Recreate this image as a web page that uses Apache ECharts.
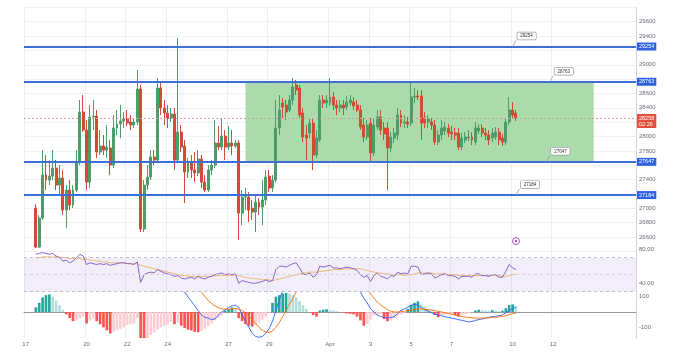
<!DOCTYPE html>
<html>
<head>
<meta charset="utf-8">
<script src="https://cdn.jsdelivr.net/npm/echarts@6/dist/echarts.min.js"></script>
<style>
  html, body { margin: 0; padding: 0; background: #fff; }
  #chart { width: 678px; height: 355px; }
</style>
</head>
<body>
<div id="chart"></div>
<script>
// 4h candles, Mar 17 12:00 -> Apr 10 04:00, [open, close, low, high]
const candles = [
  [27003,26459,26445,27059],[26459,26864,26445,26905],[26864,27463,26836,27811],[27463,27393,27254,27742],
  [27393,27449,27324,27672],[27449,27561,27393,27811],[27561,27324,27254,27672],[27324,27421,27184,27602],
  [27421,26975,26905,27533],[26975,27254,26724,27324],[27254,27045,26975,27393],[27045,27254,27003,27324],
  [27254,27644,27226,27811],[27644,28341,27602,28509],[28341,28090,28062,28578],[28090,27365,27254,28230],
  [27365,28272,27282,28439],[28272,28285,28090,28509],[28285,27784,27700,28369],[27784,27867,27742,28090],
  [27867,27811,27742,28021],[27811,27853,27700,28160],[27839,27602,27463,27951],[27602,28118,27561,28299],
  [28118,28174,28021,28369],[28174,28216,27979,28439],[28216,28244,28118,28341],[28244,28188,28146,28369],
  [28202,28160,28090,28299],[28160,28202,28118,28258],[28202,28662,28160,28927],[28662,26710,26668,28718],
  [26710,27324,26668,27393],[27324,27435,27254,27602],[27435,27714,27393,27811],[27714,27672,27602,27811],
  [27672,28676,27644,28815],[28676,28397,28299,28759],[28397,28327,28160,28509],[28327,28258,28118,28439],
  [28258,28313,28202,28397],[28313,27672,27533,28397],[27672,28062,27630,29373],[28062,27853,27784,28160],
  [27867,27505,27073,27951],[27505,27630,27421,27700],[27644,27533,27421,27742],[27533,27491,27365,27784],
  [27491,27686,27449,27811],[27686,27365,27282,27742],[27365,27254,27226,27463],[27254,27533,27226,27602],
  [27533,27602,27463,27672],[27602,27909,27561,28230],[27909,27853,27811,28146],[27853,28007,27811,28258],
  [28007,27853,27672,28090],[27853,27909,27811,28146],[27909,27867,27742,28090],[27867,27909,27839,27951],
  [27909,26933,26557,27951],[26933,27156,26766,27254],[27156,27184,26975,27282],[27156,26975,26808,27226],
  [27003,26947,26836,27115],[26947,27087,26668,27184],[27087,27017,26905,27142],[27017,27115,26766,27393],
  [27115,27435,27045,27533],[27449,27282,27226,27533],[27282,27393,27226,27463],[27393,28118,27365,28509],
  [28118,28369,28021,28578],[28467,28411,28258,28536],[28439,28341,28230,28509],[28369,28509,28341,28578],
  [28509,28690,28439,28815],[28718,28648,28578,28787],[28676,28299,28258,28718],[28327,27993,27923,28397],
  [28021,27979,27672,28160],[28048,28188,27979,28258],[28188,27742,27533,28258],[27742,27979,27700,28090],
  [27951,28509,27923,28578],[28509,28467,28397,28578],[28467,28509,28397,28578],[28467,28550,28425,28815],
  [28550,28439,28369,28620],[28439,28397,28299,28509],[28397,28439,28341,28509],[28439,28397,28299,28509],
  [28411,28481,28369,28564],[28467,28509,28425,28578],[28481,28425,28369,28550],[28439,28369,28341,28509],
  [28369,28132,28090,28439],[28160,27993,27923,28258],[27993,28160,27951,28230],[28188,27770,27630,28258],
  [27770,28160,27728,28258],[28132,28272,28090,28369],[28272,28090,28021,28369],[28118,28035,27951,28202],
  [28118,27839,27254,28202],[27839,27993,27784,28062],[27979,28048,27909,28118],[28021,28299,27951,28397],
  [28299,28188,28132,28369],[28188,28202,28118,28299],[28202,28174,28118,28272],[28188,28550,28146,28759],
  [28550,28564,28467,28676],[28564,28550,28509,28648],[28564,28188,27951,28648],[28258,28188,28118,28341],
  [28202,28244,28118,28299],[28202,28160,28090,28258],[28160,27923,27881,28230],[27923,28021,27881,28090],
  [28021,28118,27951,28230],[28076,28132,28021,28202],[28118,28048,27993,28174],[28062,28035,27951,28146],
  [28048,28021,27951,28118],[28048,27853,27811,28118],[27853,27979,27811,28048],[27951,27993,27909,28062],
  [27979,27993,27937,28090],[27993,27951,27881,28062],[27923,28118,27881,28202],[28076,28118,28035,28174],
  [28118,28048,27993,28174],[28048,28021,27951,28118],[28021,27951,27881,28090],[27979,28048,27923,28118],
  [27993,28062,27951,28132],[28062,27951,27881,28118],[27979,27923,27867,28035],[27923,28202,27881,28258],
  [28202,28369,28160,28550],[28369,28299,28258,28481],[28327,28258,28216,28369]
];

const rsi = [
  74,75,76,75,74,75, 72,70,66,67,64,66,70,74, 72,62,
  64,63,62,63,62,63,61,62,63,64,64,63,63,62,65, 41,
  50,52,53,52,56,54,52,51, 50,48,49,46,45,46,47,45,
  48,46,45,47,48,50,51,52,50,51,50,51, 40,
  43,42,41,40,40,41,42,44,42,43, 56,60, 60,59,61,63,64,
  58,51,50,52, 47,50, 60,59,60,61,58,58, 57,58,59,58,57,55,
  50,47,49,42, 49,52,48,47,45,49,48, 53,51,52,51,60, 60,59,50,
  51,52,51,46,48,50,51,49,49,48, 45,48,48,48,47,51,51,49,49,48,50,50,47,47,
  54,62,58,55.98
];

const rsiMa = [
  70,70,71,71,71,71,71,71,70,70,69,69,69,69,
  68,68,67,67,66,66,65,65,64,64,64,64,64,63,63,63,63,
  61,60,59,58,57,56,55,54,53,52,51,50,49,49,48,48,48,
  48,48,48,48,48,49,49,49,49,49,49,50,
  49,48,47,46,46,45,45,44,44,44,43,
  44,45,46,47,48,49,50,51,52,52,53,53,53,
  54,54,55,55,56,56,56,57,57,57,57,57,57,56,55,54,
  53,52,52,51,51,50,50,50,50,49,50,50,51,52,52,
  52,52,52,51,51,51,51,50,50,50,49,49,49,49,49,49,49,49,49,49,49,49,49,48,48,49,50,50.64
];

const macd = [
  300,330,370,390,400,400,390,375,360,345,330,315,305,320,325,300,300,295,275,260,
  245,230,210,205,200,198,196,195,190,188,205,150,140,138,140,145,170,175,175,172,
  170,150,150,140,130,100,70,40,10,-20,-35,-40,-50,-45,-20,0,15,30,40,45,
  30,-20,-60,-100,-140,-160,-165,-160,-140,-110,-60,10,80,140,180,220,260,280,280,260,
  240,220,200,200,210,220,230,240,240,240,235,230,225,220,210,150,130,90,60,20,
  0,-20,-30,-35,-40,-35,-30,-10,10,20,30,45,50,45,30,15,5,-5,-15,-20,
  -25,-30,-35,-40,-45,-50,-55,-60,-65,-62,-55,-50,-45,-40,-35,-30,-28,-25,-20,-5,
  10,20,32
];

const signal = [
  260,270,280,290,300,310,320,330,340,345,350,352,354,355,355,355,354,352,350,348,
  345,342,338,334,330,325,320,315,310,305,300,295,290,285,280,275,270,265,258,250,
  242,234,226,216,206,194,180,165,148,
  130,100,75,55,40,28,20,18,18,20,22,20,10,-5,-25,-50,-75,-100,-120,-130,
  -135,-125,-100,-70,-30,10,50,90,130,
  160,180,195,205,210,215,218,220,222,224,225,226,226,225,224,222,220,215,200,180,150,
  120,90,65,45,30,15,5,0,0,2,5,8,12,16,20,20,18,15,12,8,
  5,0,-5,-10,-15,-20,-25,-30,-33,-36,-38,-40,-40,-40,-40,-38,-36,-34,-32,-30,
  -25,-18,-12,-8
];

const hist = [
  30,60,95,110,115,100,75,45,15,
  -15,-40,-60,-55,-40,-30,-75,-55,-45,
  -60,-80,-100,-120,-140,-130,-120,-110,-100,-85,-80,-75,-40,
  -175,-178,-170,-150,-135,-115,-100,-90,-80,-65,-80,
  -70,-90,-105,-115,-120,-130,-132,-125,
  -110,-90,-75,-55,-40,-25,10,20,30,25,
  -40,-60,-80,-90,-95,-85,-70,-50,-30,-5,
  60,100,110,120,125,120,110,95,70,45,20,0,
  -20,-30,10,15,18,12,10,5,0,
  -5,-10,-12,-15,-30,-55,-90,-80,-50,-25,-20,-15,
  -45,-60,-55,-40,-25,-15,-5,
  20,45,60,70,50,35,20,5,
  -20,-35,-25,-20,-15,-15,-20,-30,-20,-12,-8,-3,
  10,15,12,10,8,12,10,5,8,
  25,45,50,40
];

const levels = [29254, 28763, 27647, 27184];
const tickDays = ['3/17','3/20','3/22','3/24','3/27','3/29','4/1','4/3','4/5','4/7','4/10','4/12'];
const tickText = ['17','20','22','24','27','29','Apr','3','5','7','10','12'];

// 4h slots from Mar 17 00:00
const categories = [];
const t0 = Date.UTC(2023, 2, 17);
for (let k = 0; k < 181; k++) {
  const d = new Date(t0 + k * 4 * 3600 * 1000);
  categories.push((d.getUTCMonth() + 1) + '/' + d.getUTCDate() + ' ' + String(d.getUTCHours()).padStart(2, '0') + ':00');
}
const lead = 3;
const pad = (arr, empty) => categories.map((c, k) => (k >= lead && k - lead < arr.length) ? arr[k - lead] : empty);

const lastClose = candles[candles.length - 1][1];
const last = a => a[a.length - 1];

const isTick = (idx, val) => val.endsWith(' 00:00') && tickDays.indexOf(val.split(' ')[0]) >= 0;
const hiddenPrice = [29800, 29200, 28800, 28200, 27600, 27200, 26400];

const font = 'Arial';
const axisColor = '#6a6d78';

function makeX(gi, showLabel) {
  return {
    type: 'category', gridIndex: gi, data: categories, boundaryGap: true,
    axisTick: { show: false },
    axisLine: { show: showLabel, lineStyle: { color: '#9598a1', width: 1 } },
    axisLabel: {
      show: showLabel, interval: isTick, fontSize: 6, color: axisColor, margin: 3, fontFamily: font,
      formatter: v => tickText[tickDays.indexOf(v.split(' ')[0])]
    },
    splitLine: { show: true, interval: isTick, lineStyle: { color: '#eceef2', width: 1 } }
  };
}

function valueBox(value, text, bg, fg, dy) {
  return {
    yAxis: value,
    lineStyle: { opacity: 0 },
    label: {
      show: true, position: 'end', distance: 1, formatter: text,
      backgroundColor: bg, color: fg, fontSize: 5.5, padding: [1, 2], fontFamily: font,
      offset: [0, dy || 0]
    }
  };
}

const calloutIdx = [144, 155, 154, 145];
const calloutPoints = levels.map((lv, n) => ({
  coord: [categories[calloutIdx[n]], lv], symbol: 'circle', symbolSize: 0,
  label: {
    show: true, formatter: String(lv), offset: [14, -10.5],
    backgroundColor: '#fff', borderColor: '#9a9a9a', borderWidth: 0.7, borderRadius: 1,
    padding: [1, 3], fontSize: 4.5, color: '#333', fontFamily: font
  }
}));
const calloutPointers = levels.map((lv, n) => [
  { coord: [categories[calloutIdx[n]], lv] },
  { coord: [categories[calloutIdx[n] + 1], lv + 84] }
]);

const chart = echarts.init(document.getElementById('chart'));
chart.setOption({
  animation: false,
  backgroundColor: '#fff',
  grid: [
    { left: 24, right: 42, top: 7.35, height: 244 },
    { left: 24, right: 42, top: 240.7, height: 59.5 },
    { left: 24, right: 42, top: 292.1, height: 45.9 }
  ],
  xAxis: [makeX(0, false), makeX(1, false), makeX(2, true)],
  yAxis: [
    {
      type: 'value', gridIndex: 0, position: 'right', min: 26400, max: 29800, interval: 200,
      axisLine: { show: true, lineStyle: { color: '#d1d4dc' } }, axisTick: { show: false },
      axisLabel: { fontSize: 6, color: axisColor, margin: 3, fontFamily: font,
        formatter: v => hiddenPrice.indexOf(v) >= 0 ? '' : String(v) },
      splitLine: { lineStyle: { color: '#f0f1f5' } }
    },
    {
      type: 'value', gridIndex: 1, position: 'right', min: 20, max: 90, interval: 10,
      axisLine: { show: true, lineStyle: { color: '#d1d4dc' } }, axisTick: { show: false },
      axisLabel: { fontSize: 6, color: axisColor, margin: 3, fontFamily: font,
        formatter: v => v === 80 ? '80.00' : v === 40 ? '40.00' : '' },
      splitLine: { show: false }
    },
    {
      type: 'value', gridIndex: 2, position: 'right', min: -170, max: 130, interval: 10,
      axisLine: { show: true, lineStyle: { color: '#d1d4dc' } }, axisTick: { show: false },
      axisLabel: { fontSize: 6, color: axisColor, margin: 3, fontFamily: font,
        formatter: v => v === 100 ? '100' : v === -100 ? '-100' : '' },
      splitLine: { show: false }
    }
  ],
  series: [
    {
      // zone, levels and notes
      type: 'line', xAxisIndex: 0, yAxisIndex: 0, z: 1, silent: true,
      data: categories.map(() => '-'), symbol: 'none',
      markArea: {
        silent: true,
        itemStyle: { color: '#a7d8a6', opacity: 0.95 },
        data: [[{ xAxis: categories[65], yAxis: levels[1] }, { xAxis: categories[168], yAxis: levels[2] }]]
      },
      markLine: {
        silent: true, symbol: ['none', 'none'],
        data: levels.map(lv => ({
          yAxis: lv,
          lineStyle: { color: '#3d6fd6', width: 2, type: 'solid' },
          label: { show: true, position: 'end', distance: 1, formatter: String(lv),
            backgroundColor: '#2e62e0', color: '#fff', fontSize: 5.5, padding: [1, 2], fontFamily: font }
        })).concat([{
          yAxis: lastClose,
          lineStyle: { color: '#c9a3a0', width: 1, type: [2, 2] },
          label: { show: true, position: 'end', distance: 1, formatter: lastClose + '\n02:26', offset: [0, 3],
            backgroundColor: '#e0503c', color: '#fff', fontSize: 5.5, lineHeight: 6, padding: [1, 2], fontFamily: font }
        }]).concat(calloutPointers.map(p => [
          Object.assign({}, p[0], { lineStyle: { color: '#999', width: 0.8, type: 'solid' }, label: { show: false } }),
          p[1]
        ]))
      },
      markPoint: {
        silent: true,
        data: calloutPoints.concat([
          { coord: [categories[145], 26543], symbol: 'circle', symbolSize: 7,
            itemStyle: { color: '#fff', borderColor: '#b04fc8', borderWidth: 1 }, label: { show: false } },
          { coord: [categories[145], 26543], symbol: 'circle', symbolSize: 2.5,
            itemStyle: { color: '#b04fc8' }, label: { show: false } }
        ])
      }
    },
    {
      type: 'candlestick', xAxisIndex: 0, yAxisIndex: 0, z: 3,
      data: pad(candles, ['-', '-', '-', '-']),
      barWidth: '72%',
      itemStyle: { color: '#4f9c6b', color0: '#cf4d35', borderColor: '#4f9c6b', borderColor0: '#cf4d35', borderWidth: 1 }
    },
    {
      type: 'line', xAxisIndex: 1, yAxisIndex: 1, data: pad(rsi, '-'), symbol: 'none', z: 3,
      lineStyle: { color: '#7e57c2', width: 0.9 },
      markArea: { silent: true, itemStyle: { color: 'rgba(126,87,194,0.10)' },
        data: [[{ yAxis: 70 }, { yAxis: 30 }]] },
      markLine: {
        silent: true, symbol: ['none', 'none'],
        data: [
          { yAxis: 70, lineStyle: { color: '#b7b0c8', width: 0.8, type: [3, 3] }, label: { show: false } },
          { yAxis: 50, lineStyle: { color: '#d0cadc', width: 0.8, type: [3, 3] }, label: { show: false } },
          { yAxis: 30, lineStyle: { color: '#b7b0c8', width: 0.8, type: [3, 3] }, label: { show: false } },
          valueBox(last(rsi), last(rsi).toFixed(2), '#7e57c2', '#fff', -0.5)
        ]
      }
    },
    {
      type: 'line', xAxisIndex: 1, yAxisIndex: 1, data: pad(rsiMa, '-'), symbol: 'none', z: 2,
      lineStyle: { color: '#eab466', width: 0.9 },
      markLine: { silent: true, symbol: ['none', 'none'],
        data: [valueBox(last(rsiMa), last(rsiMa).toFixed(2), '#f5e63a', '#333', 1.2)] }
    },
    {
      type: 'bar', xAxisIndex: 2, yAxisIndex: 2, data: pad(hist, '-'), barCategoryGap: '22%', z: 2,
      itemStyle: {
        color: p => {
          const k = p.dataIndex - lead;
          const v = hist[k], prev = k > 0 ? hist[k - 1] : 0;
          if (v >= 0) return v > prev ? '#26a69a' : '#b2dfdb';
          return v < prev ? '#ff5252' : '#ffcdd2';
        }
      },
      markLine: { silent: true, symbol: ['none', 'none'],
        data: [valueBox(last(hist), String(last(hist)), '#a8d8cc', '#1e5f52', 0)] }
    },
    {
      type: 'line', xAxisIndex: 2, yAxisIndex: 2, data: pad(macd, '-'), symbol: 'none', z: 3,
      lineStyle: { color: '#2962ff', width: 0.9 },
      markLine: { silent: true, symbol: ['none', 'none'],
        data: [valueBox(last(macd), String(last(macd)), '#2962ff', '#fff', 5)] }
    },
    {
      type: 'line', xAxisIndex: 2, yAxisIndex: 2, data: pad(signal, '-'), symbol: 'none', z: 3,
      lineStyle: { color: '#ff6d00', width: 0.9 },
      markLine: { silent: true, symbol: ['none', 'none'],
        data: [valueBox(last(signal), String(last(signal)), '#ff6d00', '#fff', 6)] }
    }
  ]
});
</script>
</body>
</html>
